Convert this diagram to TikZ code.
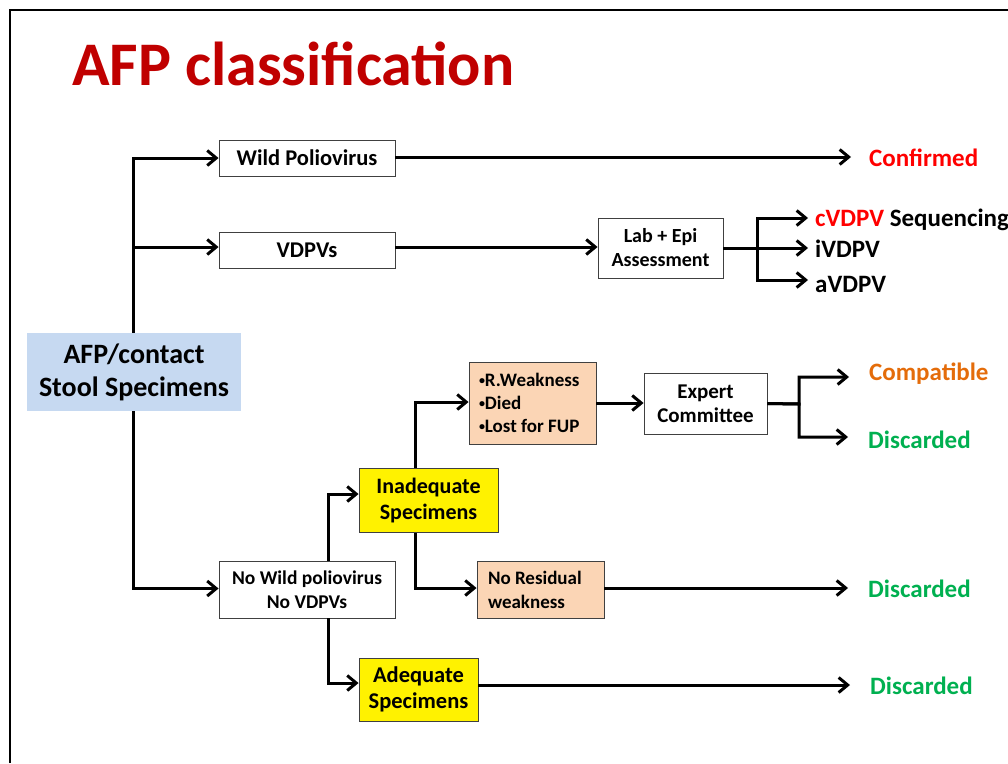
\documentclass[tikz,border=0pt]{standalone}
\usepackage{fontspec}
\setmainfont{Carlito}
\usetikzlibrary{arrows.meta}
\definecolor{titlered}{HTML}{C00000}
\definecolor{afpblue}{HTML}{C6D9F1}
\definecolor{peach}{HTML}{FBD5B5}
\definecolor{okgreen}{HTML}{00B050}
\definecolor{comporange}{HTML}{E46C0A}
\tikzset{
  box/.style={draw=black!75, line width=0.9pt, inner sep=0pt, align=center, font=\bfseries},
  lbl/.style={anchor=west, inner sep=0pt, font=\bfseries\fontsize{25}{28}\selectfont},
  arr/.style={-{Straight Barb[length=9pt,width=15pt]}, line width=3pt, line join=miter},
}
\newcommand{\fs}[2]{\fontsize{#1}{#2}\selectfont}
\newcommand{\bul}{{\fs{12}{12}\raisebox{0.35ex}{•}}}
\begin{document}
\begin{tikzpicture}[x=1pt,y=-1pt]
\useasboundingbox (0,0) rectangle (1008,763);
\draw[line width=1.8pt] (10,763) -- (10,10) -- (1010,10);
\node[anchor=base west, inner sep=0pt, text=titlered, font=\bfseries\fs{62}{70}] (title) at (72,85) {AFP classification};

% nodes
\node[box, fill=afpblue, draw=none, minimum width=214pt, minimum height=78pt, font=\bfseries\fs{28}{33}] (afp) at (134,372) {AFP/contact\\Stool Specimens};
\node[box, fill=white, minimum width=176pt, minimum height=36pt, font=\bfseries\fs{22.5}{24}] (wild) at (307,158) {Wild Poliovirus};
\node[box, fill=white, minimum width=176pt, minimum height=36pt, font=\bfseries\fs{22.5}{24}] (vdpv) at (307,250) {VDPVs};
\node[box, fill=white, minimum width=176pt, minimum height=57pt, font=\bfseries\fs{19.5}{24}] (nowild) at (307,589.5) {No Wild poliovirus\\No VDPVs};
\node[box, fill=white, minimum width=125pt, minimum height=60pt, font=\bfseries\fs{20}{24}] (lab) at (660.5,248) {Lab + Epi\\Assessment};
\node[box, fill=yellow, minimum width=139pt, minimum height=64pt, font=\bfseries\fs{22}{26}] (inad) at (428.5,500.5) {Inadequate\\Specimens};
\node[box, fill=yellow, minimum width=119pt, minimum height=63pt, font=\bfseries\fs{22.5}{26}] (adeq) at (418.5,689.5) {Adequate\\Specimens};
\node[box, fill=peach, minimum width=127pt, minimum height=82pt, font=\bfseries\fs{19}{23}, align=flush left, text width=107pt] (rw) at (532.5,403) {\bul R.Weakness\\\bul Died\\\bul Lost for FUP};
\node[box, fill=peach, minimum width=127pt, minimum height=57pt, font=\bfseries\fs{19}{24}, align=flush left, text width=105pt] (nores) at (540.5,589.5) {No Residual\\weakness};
\node[box, fill=white, minimum width=123pt, minimum height=61pt, font=\bfseries\fs{21}{24}] (exp) at (705.5,403.5) {Expert\\Committee};

% labels
\node[lbl, text=red] (conf) at (869,158) {Confirmed};
\node[lbl] (cv) at (815,220) {\textcolor{red}{cVDPV} Sequencing};
\node[lbl] (iv) at (815,249) {iVDPV};
\node[lbl] (av) at (815,284) {aVDPV};
\node[lbl, text=comporange] (comp) at (869,374) {Compatible};
\node[lbl, text=okgreen] (d1) at (868,440) {Discarded};
\node[lbl, text=okgreen] (d2) at (868,589) {Discarded};
\node[lbl, text=okgreen] (d3) at (870,686) {Discarded};

% junction coordinates
\coordinate (labj) at (757,248);
\coordinate (expj) at (799,404);

% connectors
\draw[arr] ([xshift=-1pt]afp.north) |- (wild.west);
\draw[arr] ([xshift=-1pt]afp.north) |- ([yshift=3pt]vdpv.west);
\draw[arr] ([xshift=-1pt]afp.south) |- ([yshift=1pt]nowild.west);
\draw[arr] ([yshift=1pt]wild.east) -- ([xshift=-18pt,yshift=1pt]wild.east -| conf.west);
\draw[arr] ([yshift=3pt]vdpv.east) -- ([yshift=1pt]lab.west);
\draw[arr] (lab.east) -- (labj) |- ([xshift=-7pt,yshift=2pt]cv.west);
\draw[arr] (lab.east) -- ([xshift=-7pt]labj -| iv.west);
\draw[arr] (lab.east) -- (labj) |- ([xshift=-7pt,yshift=4pt]av.west);
\draw[arr] ([xshift=21pt]nowild.north) |- ([yshift=6.5pt]inad.west);
\draw[arr] ([xshift=21pt]nowild.south) |- ([yshift=6.5pt]adeq.west);
\draw[arr] ([xshift=-13pt]inad.north) |- ([yshift=1pt]rw.west);
\draw[arr] ([xshift=-13pt]inad.south) |- ([yshift=1.5pt]nores.west);
\draw[arr] (rw.east) -- (rw.east -| exp.west);
\draw[arr] (exp.east) -- (expj) |- ([xshift=-20pt,yshift=-3pt]comp.west);
\draw[arr] (exp.east) -- (expj) |- ([xshift=-20pt,yshift=3pt]d1.west);
\draw[arr] ([yshift=1.5pt]nores.east) -- ([xshift=-20pt,yshift=1.5pt]nores.east -| d2.west);
\draw[arr] ([yshift=4.5pt]adeq.east) -- ([xshift=-20pt,yshift=4.5pt]adeq.east -| d3.west);
\end{tikzpicture}
\end{document}
